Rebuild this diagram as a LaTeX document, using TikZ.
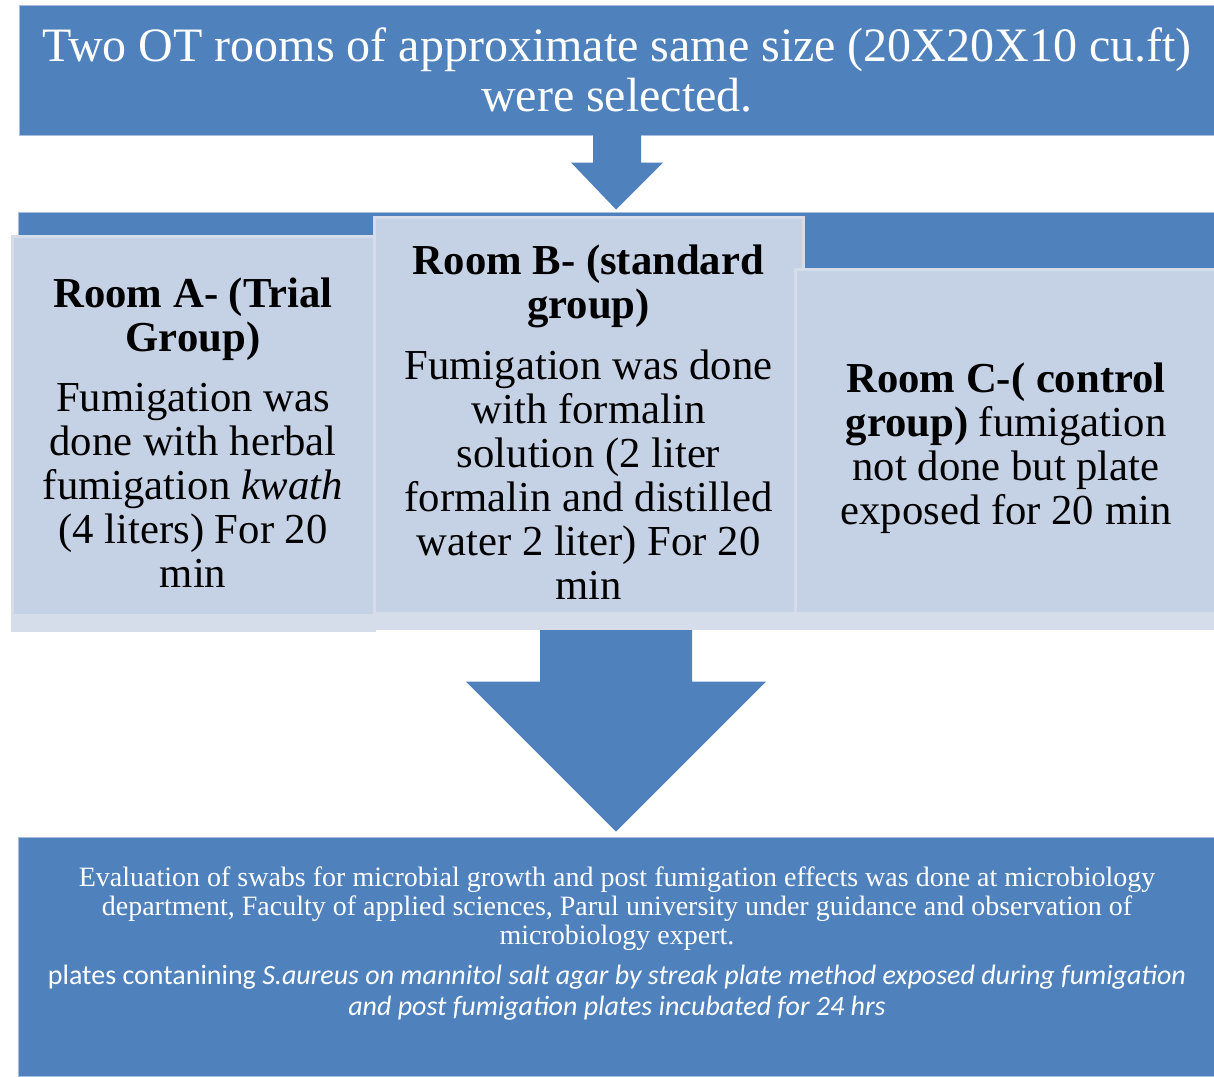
\documentclass[tikz,border=0pt]{standalone}
\usepackage{fontspec}
\setmainfont{Liberation Serif}
\newfontfamily\calibri{Carlito}
\usepackage{xcolor}
\usetikzlibrary{calc,backgrounds}
\definecolor{boxblue}{HTML}{4F81BD}
\definecolor{roomfill}{HTML}{C5D1E4}
\definecolor{roomedge}{HTML}{D5DCEA}
\definecolor{bandedge}{HTML}{A9BEDD}
\newcommand\natspace{\spaceskip=0pt\xspaceskip=0pt\centering}

\begin{document}
\begin{tikzpicture}[
  x=1pt, y=-1pt,
  bluebox/.style={draw=bandedge, line width=1pt, fill=boxblue, text=white, align=center, inner sep=0pt, minimum width=1196pt},
  roombox/.style={draw=roomedge, line width=3pt, fill=roomfill, align=center, inner sep=0pt, font=\fontsize{42.7}{44}\selectfont,
    path picture={\fill[roomedge] (path picture bounding box.south west) rectangle ([yshift=16pt]path picture bounding box.south east);}},
  blockarrow/.style={fill=boxblue}
]
\useasboundingbox (0,0) rectangle (1214,1076);
\node[bluebox, minimum height=130pt, text width=1190pt, font=\fontsize{48}{50}\selectfont] (title) at (617,70)
  {\natspace Two OT rooms of approximate same size (20X20X10 cu.ft)\\were selected.\par};
\node[bluebox, minimum height=88pt] (band) at (616,256) {};
\fill[blockarrow] ($(title.south)+(-24,-2)$) -- ($(title.south)+(24,-2)$) -- ($(title.south)+(24,27)$) -- ($(title.south)+(46,27)$)
  -- ($(band.north)+(0,-2)$) -- ($(title.south)+(-46,27)$) -- ($(title.south)+(-24,27)$) -- cycle;
\node[roombox, minimum width=362pt, minimum height=394pt, text width=350pt] (roomA) at (193,433)
  {\natspace\textbf{Room A- (Trial\\Group)}\\[16pt]Fumigation was\\done with herbal\\fumigation \textit{kwath}\\(4 liters) For 20\\min\par};
\node[roombox, minimum width=429pt, minimum height=411pt, text width=415pt] (roomB) at (588.5,422.5)
  {\natspace\textbf{Room B- (standard\\group)}\\[17pt]Fumigation was done\\with formalin\\solution (2 liter\\formalin and distilled\\water 2 liter) For 20\\min\par};
\node[roombox, minimum width=421pt, minimum height=359pt, text width=410pt] (roomC) at (1006,448.5)
  {\natspace\textbf{Room C-( control}\\\textbf{group)} fumigation\\not done but plate\\exposed for 20 min\par};
\node[bluebox, minimum height=239pt] (evalbox) at (616,956.5) {};
\node[anchor=north, text width=1180pt, align=center, text=white, inner sep=0pt, font=\fontsize{28}{29}\selectfont] (evaltext) at (617,867)
  {\natspace Evaluation of swabs for microbial growth and post fumigation effects was done at microbiology\\department, Faculty of applied sciences, Parul university under guidance and observation of\\microbiology expert.\par
   \vspace{9pt}\calibri\fontsize{28}{31}\selectfont plates contanining \textit{S.aureus on mannitol salt agar by streak plate method exposed during fumigation}\\\textit{and post fumigation plates incubated for 24 hrs}\par};
\begin{scope}[on background layer]
\fill[white] (0,0) rectangle (1214,1076);
\fill[blockarrow] ($(roomB.south -| evalbox.north)+(-76,-20)$) -- ++(152,0) -- ($(evalbox.north)+(76,-155)$) -- ++(74,0)
  -- ($(evalbox.north)+(0,-5)$) -- ($(evalbox.north)+(-150,-155)$) -- ++(74,0) -- cycle;
\end{scope}
\end{tikzpicture}
\end{document}
